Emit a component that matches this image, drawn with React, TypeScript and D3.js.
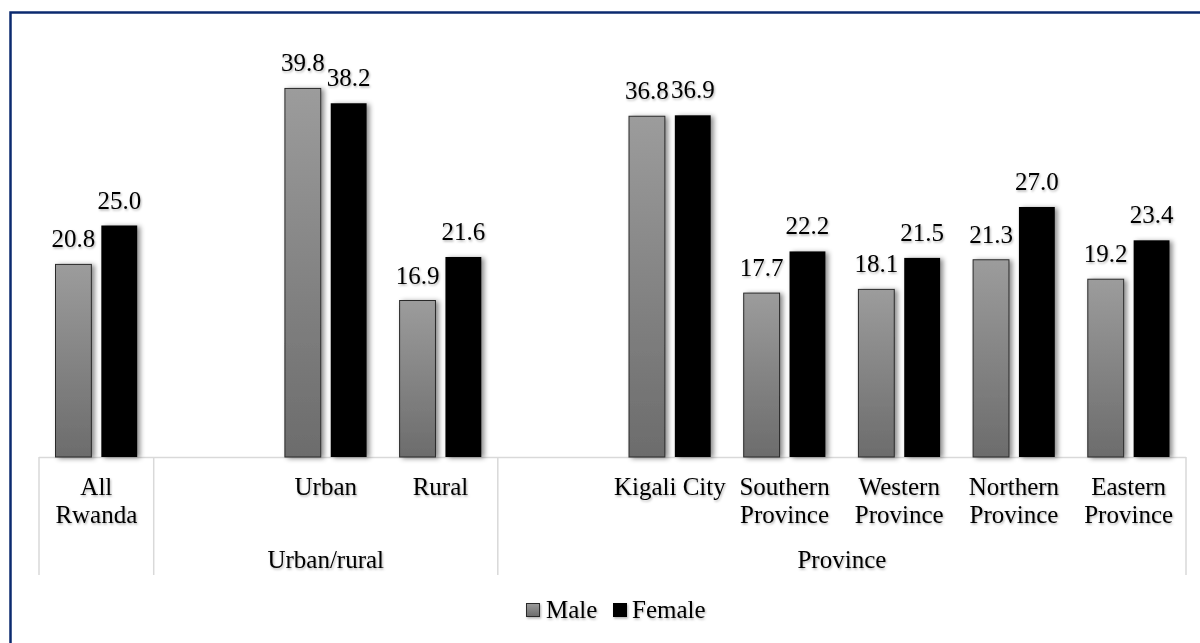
import * as d3 from 'd3';

const categories = [
  'All Rwanda', 'blank-ur', 'Urban', 'Rural', 'blank-pr',
  'Kigali City', 'Southern Province', 'Western Province', 'Northern Province', 'Eastern Province',
];
const categoryLines = [
  ['All', 'Rwanda'], [], ['Urban'], ['Rural'], [],
  ['Kigali City'], ['Southern', 'Province'], ['Western', 'Province'], ['Northern', 'Province'], ['Eastern', 'Province'],
];
const male = [20.8, null, 39.8, 16.9, null, 36.8, 17.7, 18.1, 21.3, 19.2];
const female = [25.0, null, 38.2, 21.6, null, 36.9, 22.2, 21.5, 27.0, 23.4];
const series = ['Male', 'Female'];
const groupLabels = ['', 'Urban/rural', 'Province'];
const groupFirst = ['All Rwanda', 'blank-ur', 'blank-pr'];
const groupLast = ['All Rwanda', 'Rural', 'Eastern Province'];

const W = 1200, H = 643;
const base = 457;
const font = '"Liberation Serif", "Times New Roman", serif';

export default function App() {
  const x = d3.scaleBand<string>().domain(categories).range([39, 1186]);
  const step = x.bandwidth();
  const x1 = d3.scaleBand<string>().domain(series)
    .range([16.5, step - 16.5]).paddingInner(10 / 46);
  const y = d3.scaleLinear().domain([0, 40]).range([base, base - 40 * 9.26]);
  const fmt = d3.format('.1f');
  const values = [male, female];
  const fills = ['url(#maleGrad)', '#000'];

  const dividers = [...new Set([...groupFirst.map(c => x(c)!), ...groupLast.map(c => x(c)! + step)])];

  return (
    <svg width={W} height={H} style={{ position: 'absolute', left: 0, top: 0, background: '#fff' }}
      fontFamily={font}>
      <defs>
        <linearGradient id="maleGrad" x1="0" y1="0" x2="0" y2="1">
          <stop offset="0" stopColor="#9c9c9c" />
          <stop offset="1" stopColor="#6c6c6c" />
        </linearGradient>
        <filter id="barShadow" x="-30%" y="-10%" width="160%" height="120%">
          <feDropShadow dx="3" dy="1" stdDeviation="2.5" floodColor="#000" floodOpacity="0.45" />
        </filter>
        <filter id="textShadow" x="-10%" y="-20%" width="130%" height="150%">
          <feDropShadow dx="1" dy="1.5" stdDeviation="1" floodColor="#000" floodOpacity="0.3" />
        </filter>
      </defs>

      <rect x={10.5} y={12.5} width={1300} height={700} fill="none" stroke="#0b2a6f" strokeWidth={2.5} />

      {/* axis */}
      <line x1={x(categories[0])!} x2={x(categories[categories.length - 1])! + step}
        y1={base + 0.5} y2={base + 0.5} stroke="#d9d9d9" strokeWidth={1.5} />
      {dividers.map((d, i) => (
        <line key={i} x1={d} x2={d} y1={base} y2={575} stroke="#d9d9d9" strokeWidth={1.5} />
      ))}

      {/* bars */}
      {series.map((s, si) => (
        <g key={s}>
          {categories.map((c, ci) => {
            const v = values[si][ci];
            if (v == null) return null;
            const bx = x(c)! + x1(s)!;
            return (
              <g key={c}>
                <rect x={bx} y={y(v)} width={x1.bandwidth()} height={base - y(v)}
                  fill={fills[si]} stroke={si === 0 ? '#2a2a2a' : 'none'} strokeWidth={1}
                  filter="url(#barShadow)" />
                <text x={bx + x1.bandwidth() / 2} y={y(v) - 17} textAnchor="middle"
                  fontSize={25} fill="#000" filter="url(#textShadow)">{fmt(v)}</text>
              </g>
            );
          })}
        </g>
      ))}

      {/* category labels */}
      {categories.map((c, ci) => (
        <text key={c} textAnchor="middle" fontSize={25} fill="#000" filter="url(#textShadow)">
          {categoryLines[ci].map((l, li) => (
            <tspan key={li} x={x(c)! + step / 2} y={495 + li * 28}>{l}</tspan>
          ))}
        </text>
      ))}

      {/* group labels */}
      {groupLabels.map((g, gi) => (
        <text key={gi} x={(x(groupFirst[gi])! + x(groupLast[gi])! + step) / 2} y={568}
          textAnchor="middle" fontSize={25} fill="#000" filter="url(#textShadow)">{g}</text>
      ))}

      {/* legend */}
      <g transform="translate(526,603)">
        <rect x={0.5} y={0.5} width={13} height={13} fill="url(#maleGrad)" stroke="#2a2a2a" filter="url(#textShadow)" />
        <text x={20} y={15} fontSize={25} filter="url(#textShadow)">{series[0]}</text>
        <rect x={87} y={0} width={14} height={14} fill="#000" filter="url(#textShadow)" />
        <text x={106} y={15} fontSize={25} filter="url(#textShadow)">{series[1]}</text>
      </g>
    </svg>
  );
}
